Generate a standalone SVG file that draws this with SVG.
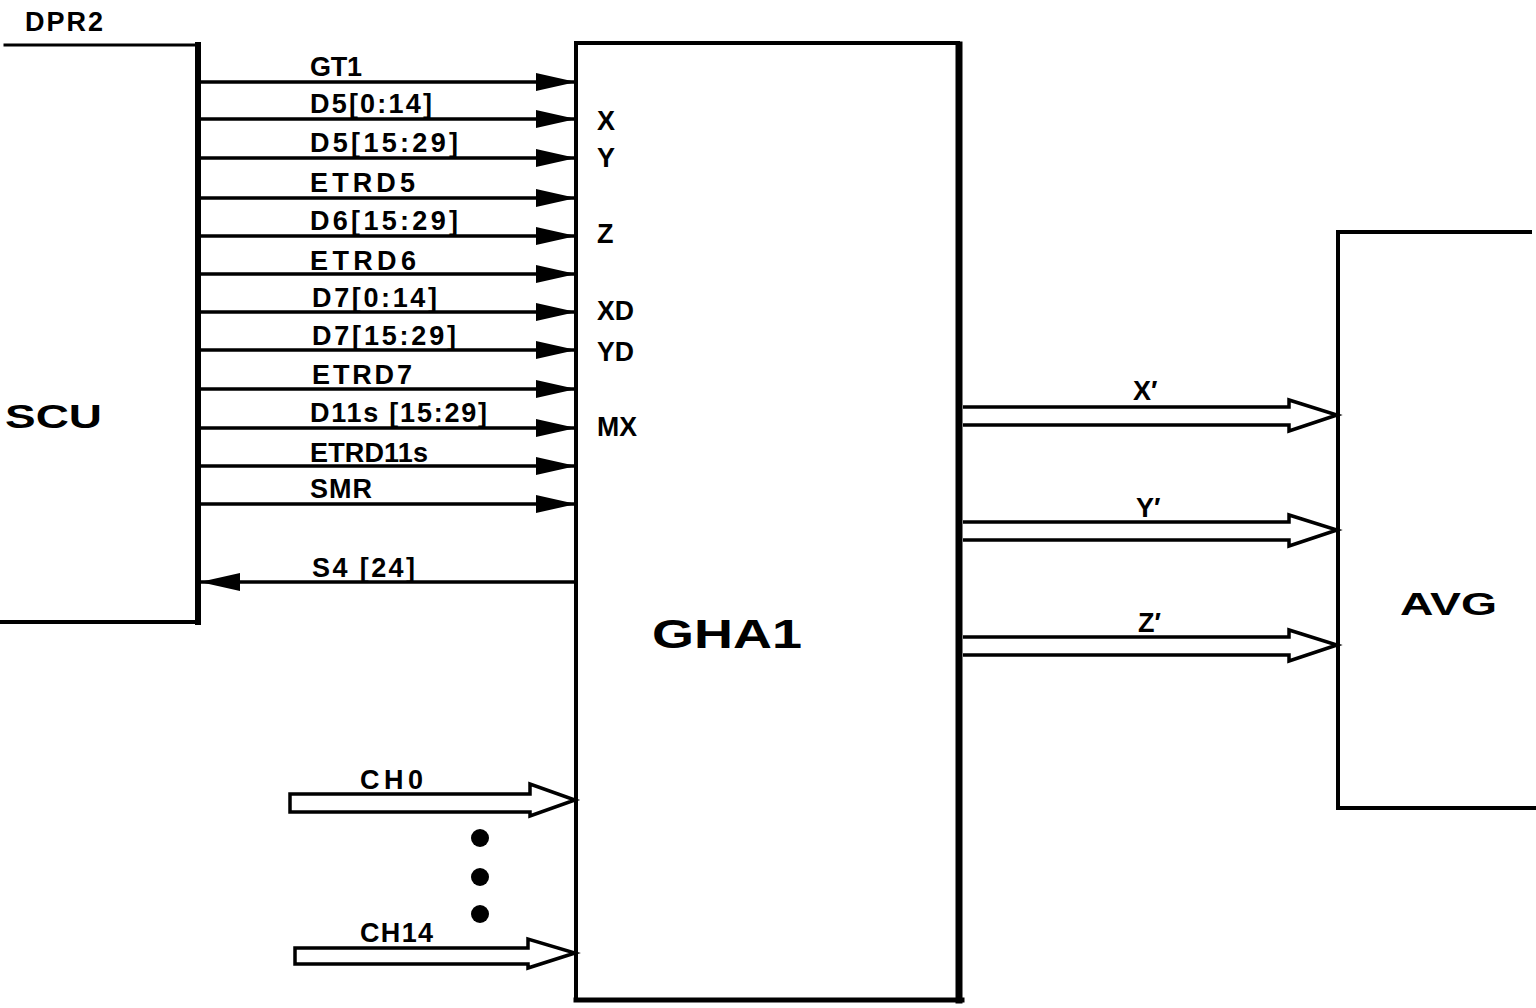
<svg xmlns="http://www.w3.org/2000/svg" width="1536" height="1008" viewBox="0 0 1536 1008">
<defs>
<style>
.box{fill:none;stroke:#000;stroke-linecap:square}
.sig{stroke:#000;stroke-width:3.5;fill:none}
.bus{stroke:#000;stroke-width:3.5;fill:#fff;stroke-linejoin:miter}
.lbl{font-family:"Liberation Sans","DejaVu Sans",sans-serif;font-weight:bold;font-size:27px;fill:#000}
.pin{font-family:"Liberation Sans","DejaVu Sans",sans-serif;font-weight:bold;font-size:27px;fill:#000}
.big{font-family:"Liberation Sans","DejaVu Sans",sans-serif;font-weight:900;fill:#000}
</style>
<marker id="ah" markerUnits="userSpaceOnUse" markerWidth="40" markerHeight="20" refX="40" refY="10" orient="auto">
<path d="M0,1 L40,10 L0,19 Z" fill="#000"/>
</marker>
</defs>
<rect width="1536" height="1008" fill="#fff"/>

<g id="SCU">
<path class="box" d="M5,45 H198" stroke-width="3"/>
<path class="box" d="M198,45 V622" stroke-width="6"/>
<path class="box" d="M0,622 H198" stroke-width="4"/>
<text class="big" x="5" y="428" font-size="33" textLength="97" lengthAdjust="spacingAndGlyphs">SCU</text>
<text class="lbl" x="25" y="31" textLength="78" lengthAdjust="spacing">DPR2</text>
</g>

<g id="GHA1">
<path class="box" d="M576,998 V43 H958" stroke-width="4"/>
<path class="box" d="M959,45 V1000" stroke-width="7"/>
<path class="box" d="M576,1000 H962" stroke-width="5"/>
<text class="big" x="652" y="648" font-size="41" textLength="150" lengthAdjust="spacingAndGlyphs">GHA1</text>
<text class="pin" x="597" y="130">X</text>
<text class="pin" x="597" y="167">Y</text>
<text class="pin" x="597" y="243">Z</text>
<text class="pin" x="597" y="320" textLength="37" lengthAdjust="spacingAndGlyphs">XD</text>
<text class="pin" x="597" y="361" textLength="37" lengthAdjust="spacingAndGlyphs">YD</text>
<text class="pin" x="597" y="436" textLength="40" lengthAdjust="spacingAndGlyphs">MX</text>
</g>

<g id="AVG">
<path class="box" d="M1530,232 H1338 V808 H1536" stroke-width="4"/>
<text class="big" x="1400" y="615" font-size="31" textLength="97" lengthAdjust="spacingAndGlyphs">AVG</text>
</g>

<g id="connectors">
<line class="sig" x1="200" y1="82" x2="576" y2="82" marker-end="url(#ah)"/>
<line class="sig" x1="200" y1="119" x2="576" y2="119" marker-end="url(#ah)"/>
<line class="sig" x1="200" y1="158" x2="576" y2="158" marker-end="url(#ah)"/>
<line class="sig" x1="200" y1="198" x2="576" y2="198" marker-end="url(#ah)"/>
<line class="sig" x1="200" y1="236" x2="576" y2="236" marker-end="url(#ah)"/>
<line class="sig" x1="200" y1="274" x2="576" y2="274" marker-end="url(#ah)"/>
<line class="sig" x1="200" y1="312" x2="576" y2="312" marker-end="url(#ah)"/>
<line class="sig" x1="200" y1="350" x2="576" y2="350" marker-end="url(#ah)"/>
<line class="sig" x1="200" y1="389" x2="576" y2="389" marker-end="url(#ah)"/>
<line class="sig" x1="200" y1="428" x2="576" y2="428" marker-end="url(#ah)"/>
<line class="sig" x1="200" y1="466" x2="576" y2="466" marker-end="url(#ah)"/>
<line class="sig" x1="200" y1="504" x2="576" y2="504" marker-end="url(#ah)"/>
<line class="sig" x1="576" y1="582" x2="200" y2="582" marker-end="url(#ah)"/>

<path class="bus" d="M963,407 H1289 V400 L1337,415 L1289,431 V425 H963"/>
<path class="bus" d="M963,522 H1289 V515 L1337,530 L1289,546 V540 H963"/>
<path class="bus" d="M963,637 H1289 V630 L1337,645 L1289,661 V655 H963"/>

<path class="bus" d="M290,794 H530 V784 L575,800 L530,816 V812 H290 Z"/>
<path class="bus" d="M295,948 H528 V939 L575,953 L528,968 V964 H295 Z"/>

<circle cx="480" cy="838" r="9" fill="#000"/>
<circle cx="480" cy="877" r="9" fill="#000"/>
<circle cx="480" cy="914" r="9" fill="#000"/>

<text class="lbl" x="310" y="76" textLength="52" lengthAdjust="spacing">GT1</text>
<text class="lbl" x="310" y="113" textLength="122" lengthAdjust="spacing">D5[0:14]</text>
<text class="lbl" x="310" y="152" textLength="148" lengthAdjust="spacing">D5[15:29]</text>
<text class="lbl" x="310" y="192" textLength="105" lengthAdjust="spacing">ETRD5</text>
<text class="lbl" x="310" y="230" textLength="148" lengthAdjust="spacing">D6[15:29]</text>
<text class="lbl" x="310" y="270" textLength="106" lengthAdjust="spacing">ETRD6</text>
<text class="lbl" x="312" y="307" textLength="125" lengthAdjust="spacing">D7[0:14]</text>
<text class="lbl" x="312" y="345" textLength="144" lengthAdjust="spacing">D7[15:29]</text>
<text class="lbl" x="312" y="384" textLength="100" lengthAdjust="spacing">ETRD7</text>
<text class="lbl" x="310" y="422" textLength="177" lengthAdjust="spacing">D11s [15:29]</text>
<text class="lbl" x="310" y="462" textLength="118" lengthAdjust="spacing">ETRD11s</text>
<text class="lbl" x="310" y="498" textLength="62" lengthAdjust="spacing">SMR</text>
<text class="lbl" x="312" y="577" textLength="103" lengthAdjust="spacing">S4 [24]</text>

<text class="lbl" x="1133" y="400">X′</text>
<text class="lbl" x="1136" y="517">Y′</text>
<text class="lbl" x="1138" y="632">Z′</text>

<text class="lbl" x="360" y="789" textLength="63" lengthAdjust="spacing">CH0</text>
<text class="lbl" x="360" y="942" textLength="73" lengthAdjust="spacing">CH14</text>
</g>
</svg>
